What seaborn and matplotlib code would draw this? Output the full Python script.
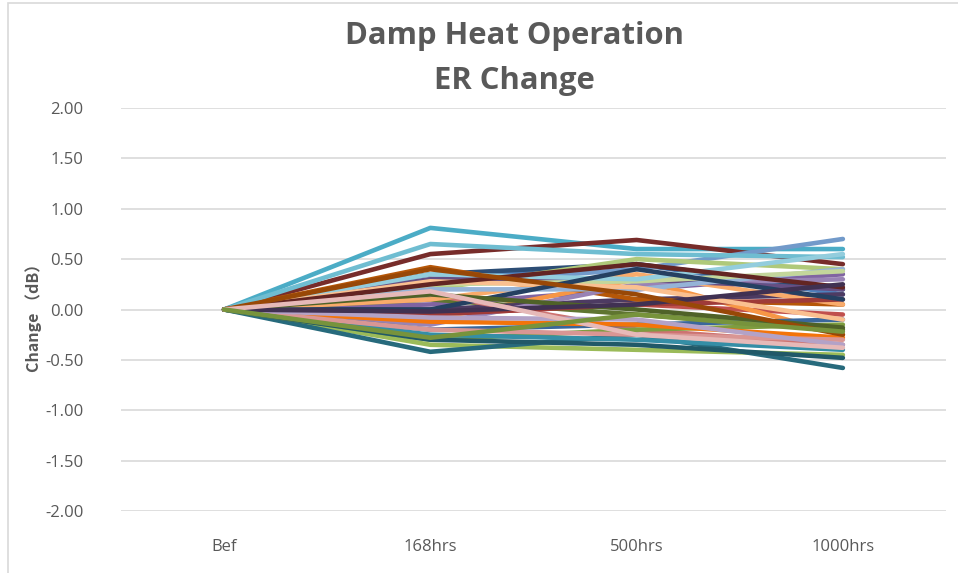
import matplotlib
matplotlib.use('Agg')
from matplotlib import pyplot as plt
from matplotlib.patches import Rectangle
import seaborn as sns
import pandas as pd


# Categorias e valores (leitura aproximada do gráfico)
STAGES = ['Bef', '168hrs', '500hrs', '1000hrs']
BEF = [0.0] * 38
H168 = [0.30, -0.05, -0.35, 0.05, 0.81, -0.10, 0.35, 0.55, 0.10, 0.00,
        -0.42, 0.42, 0.25, 0.15, 0.20, -0.15, 0.65, 0.10, -0.20, -0.05,
        -0.30, 0.30, -0.25, -0.12, 0.20, -0.20, 0.25, -0.08, 0.35, 0.28,
        0.00, 0.25, 0.15, -0.02, -0.30, 0.40, 0.18, -0.28]
H500 = [0.45, 0.05, -0.40, 0.20, 0.60, 0.30, 0.45, 0.69, -0.05, 0.10,
        -0.25, 0.10, 0.40, -0.20, 0.50, 0.25, 0.55, 0.35, -0.15, 0.05,
        -0.20, 0.30, -0.30, -0.15, 0.20, -0.25, 0.28, -0.10, 0.30, 0.22,
        0.40, 0.45, 0.00, 0.05, -0.35, 0.15, -0.25, -0.05]
H1000 = [0.15, -0.05, -0.45, 0.35, 0.60, -0.25, 0.20, 0.45, -0.20, 0.15,
         -0.58, 0.05, 0.70, -0.35, 0.40, 0.30, 0.52, 0.05, -0.10, 0.10,
         -0.15, 0.20, -0.40, -0.28, 0.40, -0.30, 0.38, -0.35, 0.55, -0.10,
         0.10, 0.22, -0.18, 0.25, -0.48, -0.25, -0.38, -0.22]
PALETTE = ['#4F81BD', '#C0504D', '#9BBB59', '#8064A2', '#4BACC6', '#F79646',
           '#2C4D75', '#772C2A', '#5F7530', '#4D3B62', '#276A7C', '#B65708',
           '#729ACA', '#CD7371', '#AFC97A', '#9983B5', '#6FBDD1', '#F9AB6B',
           '#3A679C', '#9F3B38', '#7E9D40', '#664F83', '#358EA6', '#F3740B',
           '#95B3D7', '#D99694', '#C3D69B', '#B3A2C7', '#93CDDD', '#FAC090',
           '#254061', '#632523', '#4F6228', '#403152', '#215968', '#984807',
           '#E6B9B8', '#77933C']

GREY = '#595959'
GRID = '#D9D9D9'


# Montar tabela longa
rows = []
for idx in range(len(BEF)):
    for stage, vals in zip(STAGES, [BEF, H168, H500, H1000]):
        rows.append({'serie': idx, 'stage': stage, 'x': STAGES.index(stage), 'value': vals[idx]})
df = pd.DataFrame(rows)


# Figura
sns.set_style('white')
plt.rcParams['font.family'] = ['Open Sans', 'DejaVu Sans']
fig = plt.figure(figsize=(9.58, 5.73), dpi=100)
ax = fig.add_axes([121 / 958, 1 - 511 / 573, 825 / 958, 403 / 573])

sns.lineplot(data=df, x='x', y='value', hue='serie', palette=PALETTE,
             sort=False, legend=False, linewidth=3.3, ax=ax)

ax.set_xlim(-0.5, 3.5)
ax.set_ylim(-2, 2)
ax.set_xticks(range(len(STAGES)))
ax.set_xticklabels(STAGES)
ax.set_yticks([-2, -1.5, -1, -0.5, 0, 0.5, 1, 1.5, 2])
ax.set_yticklabels([f'{v:.2f}' for v in [-2, -1.5, -1, -0.5, 0, 0.5, 1, 1.5, 2]])
ax.grid(axis='y', color=GRID, linewidth=1.2, zorder=0)
ax.set_axisbelow(True)
for side in ['top', 'right', 'left', 'bottom']:
    ax.spines[side].set_visible(False)
ax.tick_params(axis='both', length=0, colors=GREY, labelsize=12)
ax.tick_params(axis='y', pad=27)
ax.tick_params(axis='x', pad=20)

ax.set_xlabel('')
ax.set_ylabel('Change （dB）', fontsize=11.5, fontweight='bold', color=GREY,
              family=['Noto Sans CJK SC', 'DejaVu Sans'])
ax.yaxis.set_label_coords(-0.096, 0.49)

fig.text(0.537, 0.938, 'Damp Heat Operation', ha='center', va='center',
         fontsize=22.3, fontweight='bold', color=GREY)
fig.text(0.537, 0.859, 'ER Change', ha='center', va='center',
         fontsize=22.3, fontweight='bold', color=GREY)

# Borda da área do gráfico
fig.patches.append(Rectangle((8 / 958, -0.1), 1.2, 1.1 - 3 / 573, transform=fig.transFigure,
                             fill=False, edgecolor=GRID, linewidth=1.2))

fig.savefig('out.png', dpi=100)
